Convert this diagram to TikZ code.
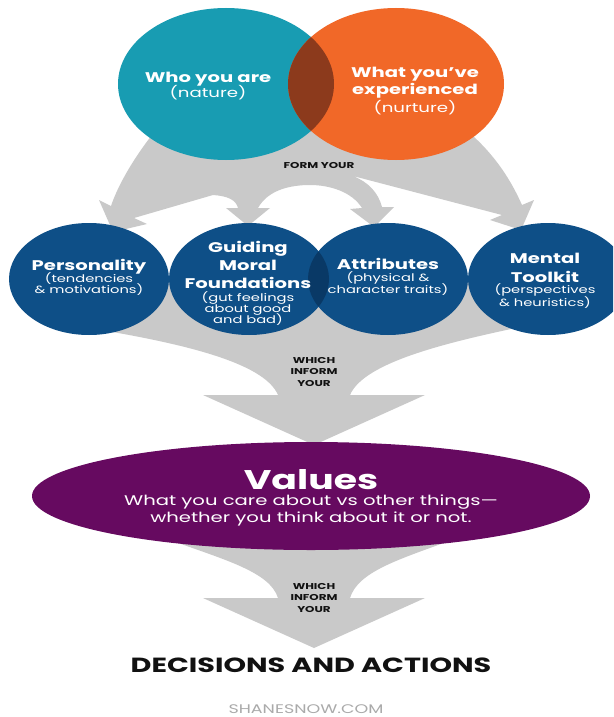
\documentclass[tikz,border=0pt]{standalone}
\usepackage{fontspec}
\setmainfont{Poppins}[FakeStretch=1.4]
\usetikzlibrary{shapes.geometric,positioning}
\definecolor{natureteal}{RGB}{24,156,178}
\definecolor{nurtureorange}{RGB}{241,104,40}
\definecolor{overlapbrown}{RGB}{140,58,28}
\definecolor{traitblue}{RGB}{14,79,135}
\definecolor{traitoverlap}{RGB}{9,57,102}
\definecolor{valuepurple}{RGB}{102,10,96}
\definecolor{flowgray}{RGB}{201,201,201}
\definecolor{inkblack}{RGB}{17,17,17}
\definecolor{creditgray}{RGB}{170,170,170}
\newcommand{\bighead}{\fontsize{14}{12}\selectfont\bfseries}
\newcommand{\bignote}{\fontsize{13}{12}\selectfont}
\newcommand{\traithead}{\fontsize{14}{12}\selectfont\bfseries}
\newcommand{\traitnote}{\fontsize{10.5}{12}\selectfont}
\newcommand{\linkfont}{\fontsize{8.5}{12}\selectfont\bfseries}

\begin{document}
\begin{tikzpicture}[x=1pt,y=-1pt,
  blob/.style = {ellipse, inner sep=0pt, minimum width=216pt, minimum height=152pt},
  trait/.style = {ellipse, inner sep=0pt, fill=traitblue, minimum width=160pt, minimum height=112pt},
  intext/.style = {text=white, align=center, inner sep=0pt, font=\fontsize{10}{12}\selectfont},
  linktext/.style = {text=inkblack, align=center, inner sep=0pt, font=\linkfont},
  flow/.style = {fill=flowgray}]
\useasboundingbox (0,0) rectangle (613,717);
\clip (0,0) rectangle (613,717);
\fill[white] (0,0) rectangle (613,717);
% gray flow shapes
\fill[flow] (200,110) -- (160,125) .. controls (135,155) and (118,185) .. (111,206) -- (99,200) -- (113,232) -- (147,224) -- (134,218) -- (213,195) .. controls (228,196) and (236,200) .. (238,208) -- (226,208) -- (248,226) -- (270,208) -- (258,208) .. controls (268,190) and (290,185) .. (310,185) .. controls (330,185) and (352,192) .. (362,208) -- (350,209) -- (374,227) -- (394,207) -- (382,207) .. controls (378,192) and (368,182) .. (353,176) -- (502,215) -- (490,220) -- (521,230) -- (534,200) -- (522,205) .. controls (510,178) and (492,150) .. (460,125) -- (420,110) -- cycle;
\fill[flow] (278,395) .. controls (264,362) and (180,342) .. (70,325) -- (89,282) -- (548,282) -- (530,325) .. controls (448,342) and (364,362) .. (350,395) -- (425,395) -- (314,445) -- (203,395) -- cycle;
\fill[flow] (278,598) .. controls (270,572) and (225,560) .. (170,540) -- (311,520) -- (452,540) .. controls (397,560) and (358,572) .. (350,598) -- (425,598) -- (314,648) -- (203,598) -- cycle;
% nature and nurture
\node (nature) at (226,84)[blob, fill=natureteal] {};
\node (nurture) at (396,84)[blob, fill=nurtureorange] {};
\begin{scope}
  \clip (226,84) ellipse [x radius=108pt, y radius=76pt];
  \fill[overlapbrown] (396,84) ellipse [x radius=108pt, y radius=76pt];
\end{scope}
% the four traits
\node (personality) at (89,279)[trait] {};
\node (moral) at (249,279)[trait] {};
\node (attributes) at (388,279)[trait] {};
\node (toolkit) at (548,279)[trait] {};
\begin{scope}
  \clip (249,279) ellipse [x radius=80pt, y radius=56pt];
  \fill[traitoverlap] (388,279) ellipse [x radius=80pt, y radius=56pt];
\end{scope}
\node (values) at (311,496)[ellipse, fill=valuepurple, minimum width=558pt, minimum height=108pt, inner sep=0pt] {};
% texts
\node (naturetxt) at (208,86)[intext] {{\bighead Who you are}\\[-1pt]{\bignote (nature)}};
\node (nurturetxt) at (415,91)[intext] {{\bighead What you’ve}\\[1pt]{\bighead experienced}\\[1.5pt]{\bignote (nurture)}};
\node (formtxt) at (319,166)[linktext] {FORM YOUR};
\node (personalitytxt) at (89,277)[intext] {{\traithead Personality}\\[-2pt]{\traitnote (tendencies}\\[-1.5pt]{\traitnote \& motivations)}};
\node (moraltxt) at (248,283.5)[intext] {{\traithead Guiding}\\[2.5pt]{\traithead Moral}\\[5.5pt]{\traithead Foundations}\\[1.5pt]{\traitnote (gut feelings}\\[-1.5pt]{\traitnote about good}\\[-2.5pt]{\traitnote and bad)}};
\node (attributestxt) at (388,277)[intext] {{\traithead Attributes}\\[0.5pt]{\traitnote (physical \&}\\[-1.5pt]{\traitnote character traits)}};
\node (toolkittxt) at (545,281)[intext] {{\traithead Mental}\\[7pt]{\traithead Toolkit}\\[-1pt]{\traitnote (perspectives}\\[-1pt]{\traitnote \& heuristics)}};
\node (inform1) at (314,372)[linktext] {WHICH\\[-0.5pt]INFORM\\[-0.5pt]YOUR};
\node (valuestxt) at (311,498)[intext] {{\fontsize{27}{12}\selectfont\bfseries Values}\\[4pt]{\fontsize{14}{12}\selectfont What you care about vs other things—}\\[1pt]{\fontsize{14}{12}\selectfont whether you think about it or not.}};
\node (inform2) at (314,598)[linktext] {WHICH\\[-0.5pt]INFORM\\[-0.5pt]YOUR};
\node (decisions) at (311,665)[text=inkblack, inner sep=0pt, font=\fontsize{20.5}{22}\selectfont\bfseries] {DECISIONS AND ACTIONS};
\node (credit) at (306,709)[text=creditgray, inner sep=0pt, font=\fontsize{12.5}{12}\selectfont] {SHANESNOW.COM};
\end{tikzpicture}
\end{document}
